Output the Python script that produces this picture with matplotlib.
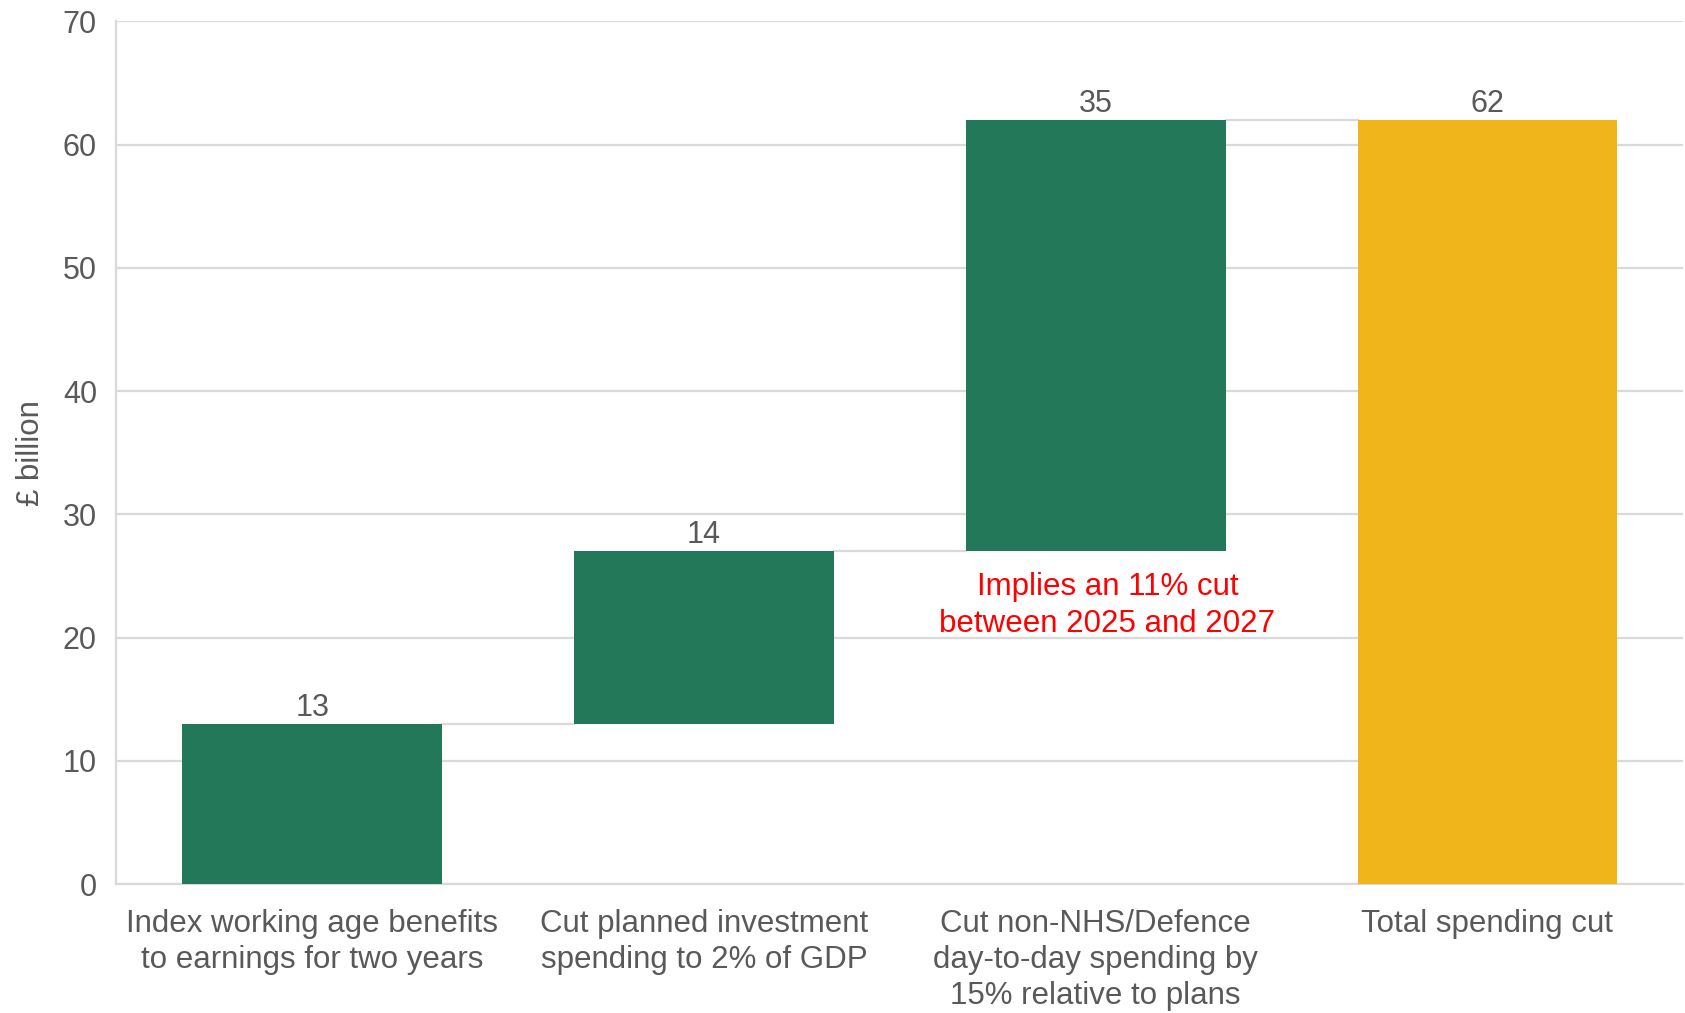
import matplotlib.pyplot as plt

plt.rcParams['font.family'] = ['Liberation Sans', 'DejaVu Sans']

categories = ["Index working age benefits\nto earnings for two years",
              "Cut planned investment\nspending to 2% of GDP",
              "Cut non-NHS/Defence\nday-to-day spending by\n15% relative to plans",
              "Total spending cut"]
values = [13, 14, 35, 62]
bottoms = [0, 13, 27, 0]
is_total = [False, False, False, True]
yticks = [0, 10, 20, 30, 40, 50, 60, 70]
note = "Implies an 11% cut\nbetween 2025 and 2027"

green = "#23785A"
gold = "#F0B51A"
grey_text = "#595959"
grid_col = "#D9D9D9"

fig = plt.figure(figsize=(16.85, 10.13), dpi=100)
ax = fig.add_axes([0.0691, 0.1273, 0.9299, 0.8517])

x = list(range(len(categories)))
colors = [gold if t else green for t in is_total]
width = 0.663
ax.bar(x, values, bottom=bottoms, width=width, color=colors, zorder=3)

# connector lines between bar tops
for i in range(len(values) - 1):
    level = bottoms[i] + values[i]
    ax.plot([x[i] + width / 2, x[i + 1] - width / 2], [level, level],
            color=grid_col, lw=1.6, zorder=2)

for xi, v, b in zip(x, values, bottoms):
    ax.text(xi, b + v + 0.1, str(v), ha='center', va='bottom',
            fontsize=22, color=grey_text)

ax.text(2.03, 22.6, note, ha='center', va='center', fontsize=22.5,
        color='#FF0000', linespacing=1.3)

ax.set_xlim(-0.5, 3.5)
ax.set_ylim(0, 70)
ax.set_yticks(yticks)
ax.set_xticks(x)
ax.set_xticklabels(categories, fontsize=22.5, color=grey_text, linespacing=1.25)
ax.tick_params(axis='y', labelsize=22, colors=grey_text, length=0, pad=14)
ax.tick_params(axis='x', length=0, pad=18)
ax.set_ylabel("£ billion", fontsize=22.5, color=grey_text, labelpad=12)

ax.yaxis.grid(True, color=grid_col, lw=1.6, zorder=0)
ax.set_axisbelow(True)
for side in ['top', 'right']:
    ax.spines[side].set_visible(False)
for side in ['left', 'bottom']:
    ax.spines[side].set_color(grid_col)
    ax.spines[side].set_linewidth(1.6)

fig.savefig("out.png", dpi=100)
